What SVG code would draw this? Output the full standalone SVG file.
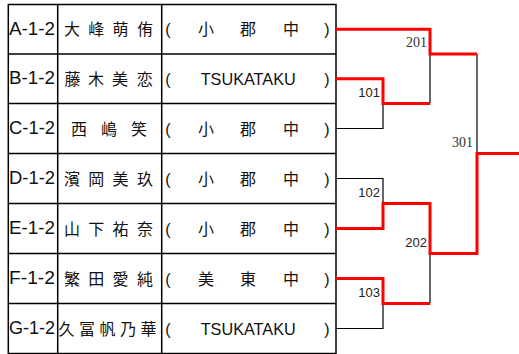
<svg xmlns="http://www.w3.org/2000/svg" width="519" height="354" viewBox="0 0 519 354">
<style>
.cell{fill:#fff;stroke:#000;stroke-width:1.5}
.id{font-family:"Liberation Sans","Noto Sans CJK JP",sans-serif;font-size:18px;fill:#111}
.nm{font-family:"Noto Sans CJK JP","Liberation Sans",sans-serif;font-size:16px;fill:#111;text-anchor:middle}
.sc{font-family:"Noto Sans CJK JP","Liberation Sans",sans-serif;font-size:16px;fill:#111;text-anchor:middle}
.en{font-family:"Liberation Sans","Noto Sans CJK JP",sans-serif;font-size:17px;fill:#111}
.pr{font-family:"Liberation Sans",sans-serif;font-size:16px;fill:#111;text-anchor:middle}
.win{fill:none;stroke:#ff0000;stroke-width:3}
.lose{fill:none;stroke:#000;stroke-width:1.2}
.ms{font-family:"Liberation Sans",sans-serif;font-size:13px;fill:#222;text-anchor:end}
.mr{font-family:"Liberation Serif",serif;font-size:14px;fill:#333;text-anchor:end}
</style>
<rect width="519" height="354" fill="#fff"/>
<g id="table">
<rect class="cell" x="8.3" y="4.5" width="327.7" height="349"/>
<line class="cell" x1="57.7" y1="4.5" x2="57.7" y2="353.5"/>
<line class="cell" x1="161.7" y1="4.5" x2="161.7" y2="353.5"/>
<line class="cell" x1="8.3" y1="54" x2="336" y2="54"/>
<line class="cell" x1="8.3" y1="103.5" x2="336" y2="103.5"/>
<line class="cell" x1="8.3" y1="153.5" x2="336" y2="153.5"/>
<line class="cell" x1="8.3" y1="203.5" x2="336" y2="203.5"/>
<line class="cell" x1="8.3" y1="253.5" x2="336" y2="253.5"/>
<line class="cell" x1="8.3" y1="303.5" x2="336" y2="303.5"/>
</g>
<g id="nodeA">
<text class="id" x="9" y="34.5" textLength="46" lengthAdjust="spacingAndGlyphs">A-1-2</text>
<text class="nm" x="72 96.3 120.6 145" y="35.2">大峰萌侑</text>
<text class="pr" x="168" y="35.2">(</text>
<text class="sc" x="206 248 291" y="35.2">小郡中</text>
<text class="pr" x="327" y="35.2">)</text>
</g>
<g id="nodeB">
<text class="id" x="9" y="84.1" textLength="46" lengthAdjust="spacingAndGlyphs">B-1-2</text>
<text class="nm" x="72.5 96 120 144.7" y="84.8">藤木美恋</text>
<text class="pr" x="168" y="84.8">(</text>
<text class="en" x="200.7" y="84.9" textLength="95" lengthAdjust="spacingAndGlyphs">TSUKATAKU</text>
<text class="pr" x="327" y="84.8">)</text>
</g>
<g id="nodeC">
<text class="id" x="9" y="133.8" textLength="46" lengthAdjust="spacingAndGlyphs">C-1-2</text>
<text class="nm" x="79 109 139" y="134.5">西嶋笑</text>
<text class="pr" x="168" y="134.5">(</text>
<text class="sc" x="206 248 291" y="134.5">小郡中</text>
<text class="pr" x="327" y="134.5">)</text>
</g>
<g id="nodeD">
<text class="id" x="9" y="183.8" textLength="46" lengthAdjust="spacingAndGlyphs">D-1-2</text>
<text class="nm" x="72 96.3 120.6 145" y="184.5">濱岡美玖</text>
<text class="pr" x="168" y="184.5">(</text>
<text class="sc" x="206 248 291" y="184.5">小郡中</text>
<text class="pr" x="327" y="184.5">)</text>
</g>
<g id="nodeE">
<text class="id" x="9" y="233.8" textLength="46" lengthAdjust="spacingAndGlyphs">E-1-2</text>
<text class="nm" x="72 96.3 120.6 145" y="234.5">山下祐奈</text>
<text class="pr" x="168" y="234.5">(</text>
<text class="sc" x="206 248 291" y="234.5">小郡中</text>
<text class="pr" x="327" y="234.5">)</text>
</g>
<g id="nodeF">
<text class="id" x="9" y="283.8" textLength="46" lengthAdjust="spacingAndGlyphs">F-1-2</text>
<text class="nm" x="72 96.3 120.6 145" y="284.5">繁田愛純</text>
<text class="pr" x="168" y="284.5">(</text>
<text class="sc" x="206 248 291" y="284.5">美東中</text>
<text class="pr" x="327" y="284.5">)</text>
</g>
<g id="nodeG">
<text class="id" x="9" y="333.8" textLength="46" lengthAdjust="spacingAndGlyphs">G-1-2</text>
<text class="nm" x="66.5 87 107.5 128 148.5" y="334.5">久冨帆乃華</text>
<text class="pr" x="168" y="334.5">(</text>
<text class="en" x="200.7" y="334.6" textLength="95" lengthAdjust="spacingAndGlyphs">TSUKATAKU</text>
<text class="pr" x="327" y="334.5">)</text>
</g>
<g id="connectors">
<path class="lose" d="M336 128.5 H383 V103.5"/>
<path class="lose" d="M430 54 V103.5"/>
<path class="lose" d="M477 54 V153.5"/>
<path class="lose" d="M336 178.5 H383 V203.5"/>
<path class="lose" d="M336 328.5 H383 V303.5"/>
<path class="lose" d="M430 253.5 V303.5"/>
<path class="win" d="M336 29.3 H430 V54 H477"/>
<path class="win" d="M336 78.8 H383 V103.5 H430"/>
<path class="win" d="M336 228.5 H383 V203.5 H430 V253.5 H477 V153.5 H519"/>
<path class="win" d="M336 278.5 H383 V303.5 H430"/>
</g>
<g id="labels">
<text class="ms" x="380" y="96.7">101</text>
<text class="mr" x="427" y="46.7">201</text>
<text class="mr" x="473" y="146.7">301</text>
<text class="ms" x="380" y="196.7">102</text>
<text class="ms" x="427" y="246.7">202</text>
<text class="ms" x="380" y="297.3">103</text>
</g>
</svg>
